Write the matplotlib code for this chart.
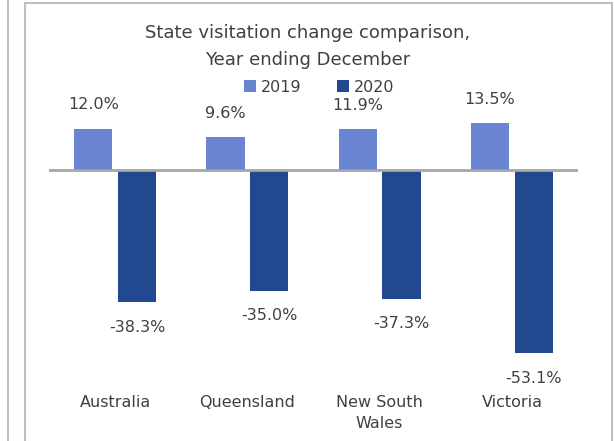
import matplotlib.pyplot as plt
import numpy as np
from matplotlib.lines import Line2D
from matplotlib.patches import Rectangle

# DATA
states = ['Australia', 'Queensland', 'New South\nWales', 'Victoria']
change_2019 = [12.0, 9.6, 11.9, 13.5]
change_2020 = [-38.3, -35.0, -37.3, -53.1]

c2019 = '#6985D1'
c2020 = '#22488F'
txt = '#404040'

plt.rcParams['font.family'] = ['DejaVu Sans']
fig = plt.figure(figsize=(6.14, 4.41), dpi=100)
ax = fig.add_axes([49 / 614, 64 / 441, 529 / 614, 276 / 441])

x = np.arange(len(states))
w = 0.29
off = 0.165
b1 = ax.bar(x - off, change_2019, w, color=c2019, label='2019')
b2 = ax.bar(x + off, change_2020, w, color=c2020, label='2020')

for r, v in zip(b1, change_2019):
    ax.annotate(f'{v:.1f}%', (r.get_x() + r.get_width() / 2, v),
                xytext=(0, 17), textcoords='offset points',
                ha='center', va='center', fontsize=11.5, color=txt)
for r, v in zip(b2, change_2020):
    ax.annotate(f'{v:.1f}%', (r.get_x() + r.get_width() / 2, v),
                xytext=(0, -18), textcoords='offset points',
                ha='center', va='center', fontsize=11.5, color=txt)

ax.axhline(0, color='#A6A6A6', lw=2, zorder=3)
ax.set_xlim(-0.5, 3.5)
ax.set_ylim(-60, 20)
ax.set_yticks([])
ax.set_xticks(x)
ax.set_xticklabels(states, fontsize=11.5, color=txt, va='top', linespacing=1.5)
ax.tick_params(axis='x', length=0, pad=13)
for s in ax.spines.values():
    s.set_visible(False)
ax.patch.set_alpha(0)

fig.text(308 / 614, 1 - 33 / 441, 'State visitation change comparison,',
         ha='center', va='center', fontsize=13, color=txt)
fig.text(308 / 614, 1 - 60 / 441, 'Year ending December',
         ha='center', va='center', fontsize=13, color=txt)

ax.legend(loc='center', bbox_to_anchor=(319 / 614, 1 - 87 / 441),
          bbox_transform=fig.transFigure, ncol=2, frameon=False,
          fontsize=11.5, handlelength=0.75, handleheight=0.75,
          handletextpad=0.3, columnspacing=2.2, labelcolor=txt)

# panel frames
fig.add_artist(Rectangle((25 / 614, -0.1), 587 / 614, 1.1 - 3 / 441,
                         transform=fig.transFigure, fill=False,
                         edgecolor='#BFBFBF', lw=1.5))
fig.add_artist(Line2D([8 / 614, 8 / 614], [0, 1], transform=fig.transFigure,
                      color='#BFBFBF', lw=1.5))

fig.savefig('out.png', dpi=100)
